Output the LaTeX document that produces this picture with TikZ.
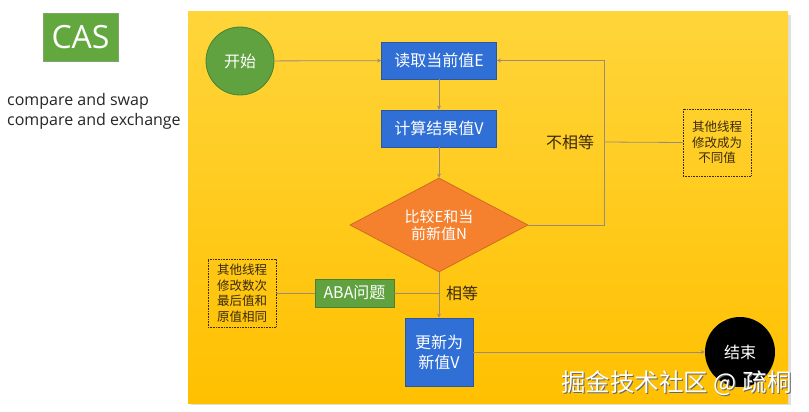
\documentclass[tikz,border=0pt]{standalone}
\usepackage{fontspec}
\setmainfont{Open Sans}
\newfontfamily\cjk{Noto Sans CJK SC}
\usetikzlibrary{shapes.geometric,arrows.meta,shadows}
\definecolor{bluebox}{HTML}{2F6FD6}
\definecolor{blueedge}{HTML}{2A57A0}
\definecolor{greenbox}{HTML}{5FA23F}
\definecolor{casgreen}{HTML}{62A83E}
\definecolor{greenedge}{HTML}{4A8030}
\definecolor{orangebox}{HTML}{F5812F}
\definecolor{orangeedge}{HTML}{D06A20}
\definecolor{lineclr}{HTML}{9A8C78}
\definecolor{darktxt}{HTML}{3A2A0E}
\definecolor{paneltop}{HTML}{FFD53A}
\definecolor{panelbot}{HTML}{FFC000}
\tikzset{
  x=1pt, y=-1pt,
  procbox/.style={draw=blueedge, line width=0.8pt, fill=bluebox, text=white, font=\cjk\fontsize{16}{20}\selectfont, align=center, inner sep=0pt},
  startc/.style={circle, draw=greenedge, line width=0.8pt, fill=greenbox, text=white, minimum size=68pt, inner sep=0pt, font=\cjk\fontsize{16}{20}\selectfont},
  endc/.style={circle, fill=black, text=white, minimum size=70pt, inner sep=0pt, font=\cjk\fontsize{16}{20}\selectfont},
  decide/.style={diamond, aspect=1.9, draw=orangeedge, line width=0.8pt, fill=orangebox, text=white, minimum width=178pt, minimum height=94pt, inner sep=0pt, align=center, font=\cjk\fontsize{15}{17}\selectfont},
  notebox/.style={draw=darktxt, densely dotted, line width=0.6pt, text=darktxt, align=center, inner sep=0pt, font=\cjk\fontsize{12.5}{15.5}\selectfont},
  greenlabel/.style={draw=greenedge, line width=0.6pt, fill=greenbox, text=white, inner sep=0pt, font=\cjk\fontsize{16}{20}\selectfont},
  conn/.style={draw=lineclr, line width=0.8pt},
  arr/.style={conn, -{Stealth[length=4pt,width=4pt]}},
  lbl/.style={text=darktxt, font=\cjk\fontsize{16}{20}\selectfont}
}
\begin{document}
\begin{tikzpicture}
\useasboundingbox (0,0) rectangle (809,412);
\fill[white] (0,0) rectangle (809,412);
% panel
\fill[gray!25] (191,15) rectangle (791,405);
\shade[top color=paneltop, bottom color=panelbot] (188,12) rectangle (788,403);
% left side
\node[fill=casgreen, draw=greenedge!70, line width=0.5pt, minimum width=75pt, minimum height=48pt, text=white, font=\fontsize{32}{36}\selectfont, inner sep=0pt] (cas) at (80.5,37) {CAS};
\node[anchor=west, inner sep=0pt, font=\fontsize{16}{20}\selectfont, text=black!85, align=left] (desc) at (7,111) {compare and swap\\compare and exchange};
% nodes
\node[startc] (start) at (240,61) {开始};
\node[procbox, minimum width=115pt, minimum height=37pt] (read) at (439,60.5) {读取当前值E};
\node[procbox, minimum width=115pt, minimum height=37pt] (calc) at (439,128.5) {计算结果值V};
\node[decide] (cmp) at (439,225) {比较E和当\\前新值N};
\node[procbox, minimum width=68pt, minimum height=68pt] (upd) at (439,352) {更新为\\新值V};
\node[endc] (end) at (740,352) {结束};
\node[notebox, minimum width=68pt, minimum height=67pt] (note1) at (717,142.5) {其他线程\\修改成为\\不同值};
\node[notebox, minimum width=68pt, minimum height=68pt] (note2) at (242,293) {其他线程\\修改数次\\最后值和\\原值相同};
\node[greenlabel, minimum width=79pt, minimum height=28pt] (aba) at (354.5,293) {ABA问题};
\node[lbl] (neq) at (570,142) {不相等};
\node[lbl] (eq) at (462,293) {相等};
% connectors
\draw[arr] (start) -- (read);
\draw[arr] (read) -- (calc);
\draw[arr] (calc) -- (cmp);
\coordinate (corner) at (604,225);
\coordinate (nej) at (604,142);
\coordinate (eqj) at (439,293);
\draw[arr] (cmp.east) -- (corner) |- (read.east);
\draw[conn] (nej) -- (note1.west);
\draw[arr] (cmp.south) -- (upd.north);
\draw[conn] (aba.east) -- (eqj);
\draw[conn] (note2.east) -- (aba.west);
\draw[arr] (upd.east) -- (end.west);
% watermark
\node[text=black!60, font=\cjk\fontsize{24.5}{28}\selectfont, inner sep=0pt] at (677.5,384.5) {掘金技术社区 @ 疏桐};
\node[text=white, font=\cjk\fontsize{24.5}{28}\selectfont, inner sep=0pt] (wm) at (676.5,383.5) {掘金技术社区 @ 疏桐};
\end{tikzpicture}
\end{document}
